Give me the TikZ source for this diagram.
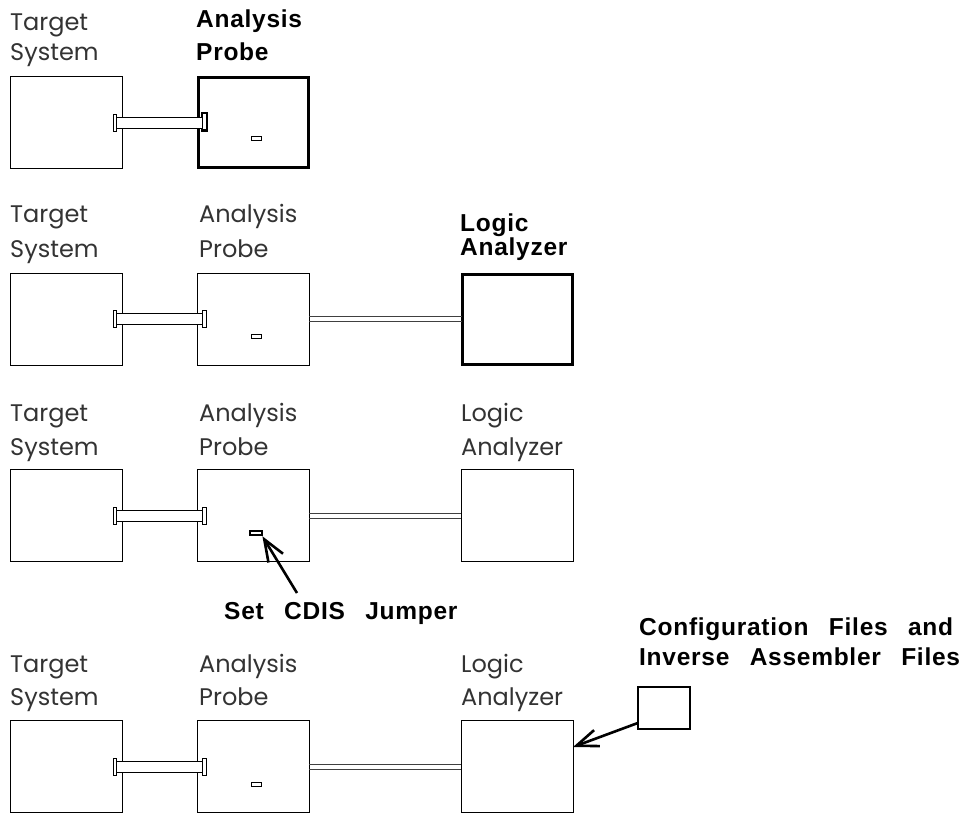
\documentclass[tikz,border=0pt]{standalone}
\usepackage{fontspec}
\usetikzlibrary{arrows.meta}
\newfontfamily\thinfont{Poppins}
\newfontfamily\boldfont{Liberation Sans}[LetterSpace=3,WordSpace=2.7]
\begin{document}
\begin{tikzpicture}[x=1pt,y=-1pt,
  box/.style={draw, line width=0.9pt, minimum width=112pt, minimum height=92pt, inner sep=0pt, outer sep=0pt, anchor=north west},
  boldbox/.style={box, line width=3pt, minimum width=110pt, minimum height=90pt},
  conn/.style={draw, fill=white, line width=0.9pt, minimum width=3.7pt, minimum height=17pt, inner sep=0pt, outer sep=0pt},
  boldconn/.style={conn, line width=2.5pt, minimum width=5pt, minimum height=17.5pt},
  jump/.style={draw, line width=0.9pt, minimum width=10pt, minimum height=4pt, inner sep=0pt, outer sep=0pt},
  boldjump/.style={jump, line width=2.2pt, minimum width=11.8pt, minimum height=3.5pt},
  tube/.style={draw, fill=white, line width=0.9pt},
  cable/.style={line width=0.9pt, draw=black!75},
  pointer/.style={line width=2.6pt, -{Straight Barb[length=22pt,width=17pt]}},
  thinlbl/.style={anchor=base west, inner sep=0pt, text=black!80, font=\thinfont\fontsize{24}{30}\selectfont},
  boldlbl/.style={anchor=base west, inner sep=0pt, font=\boldfont\bfseries\fontsize{24.5}{30}\selectfont}
]
\useasboundingbox (0,0) rectangle (971,814);

% ---------- Row 1 ----------
\node[thinlbl] (t1a) at (10,30) {Target};
\node[thinlbl] (t1b) at (10,60) {System};
\node[boldlbl] (p1a) at (196,27) {Analysis};
\node[boldlbl] (p1b) at (196,60) {Probe};
\node[box] (ts1) at (10,76.5) {};
\node[boldbox] (ap1) at (198,77.5) {};
\node[conn] (cl1) at (115,122.5) {};
\node[boldconn] (cr1) at (204.5,121.7) {};
\draw[tube] ([yshift=5.5pt]cl1.east) rectangle ([yshift=-5.5pt]cr1.west |- cl1.east);
\node[jump] (jp1) at (256.5,138.5) {};

% ---------- Row 2 ----------
\node[thinlbl] (t2a) at (10,222) {Target};
\node[thinlbl] (t2b) at (10,257) {System};
\node[thinlbl] (p2a) at (199,222) {Analysis};
\node[thinlbl] (p2b) at (199,257) {Probe};
\node[boldlbl] (l2a) at (460,231) {Logic};
\node[boldlbl] (l2b) at (460,255) {Analyzer};
\node[box] (ts2) at (10,273) {};
\node[box] (ap2) at (197,273) {};
\node[boldbox] (la2) at (462,274) {};
\node[conn] (cl2) at (115,319) {};
\node[conn] (cr2) at (204.5,319) {};
\draw[tube] ([yshift=5.5pt]cl2.east) rectangle ([yshift=-5.5pt]cr2.west);
\node[jump] (jp2) at (256.5,336) {};
\draw[cable] ([yshift=2.5pt]ap2.east) -- ([yshift=2.5pt]la2.west);
\draw[cable] ([yshift=-2.5pt]ap2.east) -- ([yshift=-2.5pt]la2.west);

% ---------- Row 3 ----------
\node[thinlbl] (t3a) at (10,421.7) {Target};
\node[thinlbl] (t3b) at (10,455) {System};
\node[thinlbl] (p3a) at (199,421.7) {Analysis};
\node[thinlbl] (p3b) at (199,455) {Probe};
\node[thinlbl] (l3a) at (461,421.7) {Logic};
\node[thinlbl] (l3b) at (461,455) {Analyzer};
\node[box] (ts3) at (10,469.5) {};
\node[box] (ap3) at (197,469.5) {};
\node[box] (la3) at (461,469.5) {};
\node[conn] (cl3) at (115,515.5) {};
\node[conn] (cr3) at (204.5,515.5) {};
\draw[tube] ([yshift=5.5pt]cl3.east) rectangle ([yshift=-5.5pt]cr3.west);
\node[boldjump] (jp3) at (256,533) {};
\draw[cable] ([yshift=2.5pt]ap3.east) -- ([yshift=2.5pt]la3.west);
\draw[cable] ([yshift=-2.5pt]ap3.east) -- ([yshift=-2.5pt]la3.west);
\coordinate (jt) at (297,593);
\draw[pointer] (jt) -- ([shift={(0.5,1.5)}]jp3.south east);
\node[boldlbl] (sj) at (224,619) {Set CDIS Jumper};

% ---------- Row 4 ----------
\node[thinlbl] (t4a) at (10,672) {Target};
\node[thinlbl] (t4b) at (10,705) {System};
\node[thinlbl] (p4a) at (199,672) {Analysis};
\node[thinlbl] (p4b) at (199,705) {Probe};
\node[thinlbl] (l4a) at (461,672) {Logic};
\node[thinlbl] (l4b) at (461,705) {Analyzer};
\node[box] (ts4) at (10,720.5) {};
\node[box] (ap4) at (197,720.5) {};
\node[box] (la4) at (461,720.5) {};
\node[conn] (cl4) at (115,766.5) {};
\node[conn] (cr4) at (204.5,766.5) {};
\draw[tube] ([yshift=5.5pt]cl4.east) rectangle ([yshift=-5.5pt]cr4.west);
\node[jump] (jp4) at (256.5,784) {};
\draw[cable] ([yshift=2.5pt]ap4.east) -- ([yshift=2.5pt]la4.west);
\draw[cable] ([yshift=-2.5pt]ap4.east) -- ([yshift=-2.5pt]la4.west);
\node[boldlbl] (cf1) at (639,635) {Configuration Files and};
\node[boldlbl] (cf2) at (639,665) {Inverse Assembler Files};
\node[draw, line width=2pt, minimum width=52pt, minimum height=42pt, inner sep=0pt, outer sep=0pt] (cfg) at (663.8,708) {};
\draw[pointer] ([yshift=6pt]cfg.south west) -- ([yshift=19.5pt]la4.east);
\end{tikzpicture}
\end{document}
